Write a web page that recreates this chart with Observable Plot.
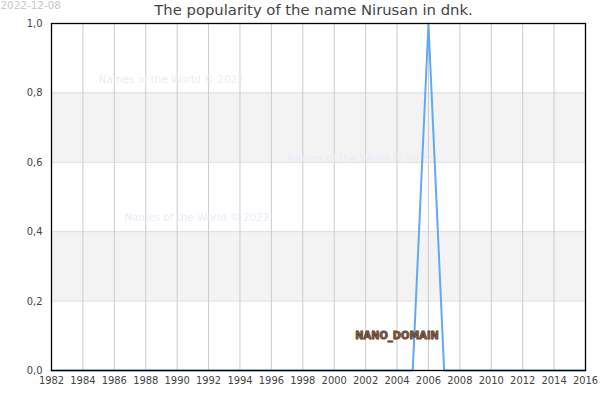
<!DOCTYPE html>
<html>
<head>
<meta charset="utf-8">
<script src="https://cdn.jsdelivr.net/npm/d3@7"></script>
<script src="https://cdn.jsdelivr.net/npm/@observablehq/plot@0.6"></script>
<style>
  html, body { margin: 0; padding: 0; background: #fff; }
  #chart svg { display: block; }
</style>
</head>
<body>
<div id="chart"></div>
<script>
const years = [1982,1983,1984,1985,1986,1987,1988,1989,1990,1991,1992,1993,1994,1995,1996,1997,1998,1999,2000,2001,2002,2003,2004,2005,2006,2007,2008,2009,2010,2011,2012,2013,2014,2015,2016];
const popularity = [0,0,0,0,0,0,0,0,0,0,0,0,0,0,0,0,0,0,0,0,0,0,0,0,1,0,0,0,0,0,0,0,0,0,0];
const xTicks = [1982,1984,1986,1988,1990,1992,1994,1996,1998,2000,2002,2004,2006,2008,2010,2012,2014,2016];
const yTicks = [0,0.2,0.4,0.6,0.8,1.0];
const bandLow = [0.2,0.6];
const bandHigh = [0.4,0.8];
const titleText = "The popularity of the name Nirusan in dnk.";
const dateText = "2022-12-08";
const watermarkText = "Names of the World © 2022";
const watermarkX = [1985.0, 1997.0, 1986.65];
const watermarkY = [0.838, 0.611, 0.441];
const domainLabel = "NANO_DOMAIN";
const domainX = [2004];
const domainY = [0.1];

const data = years.map((y, i) => ({year: y, value: popularity[i]}));
const bands = bandLow.map((lo, i) => ({lo, hi: bandHigh[i]}));
const watermarks = watermarkX.map((x, i) => ({x, y: watermarkY[i]}));
const fmt = v => d3.format(".1f")(v).replace(".", ",");
const condensed = "'DejaVu Sans Condensed', 'DejaVu Sans', sans-serif";
const regular = "'DejaVu Sans', sans-serif";

const chart = Plot.plot({
  width: 600,
  height: 400,
  marginLeft: 51,
  marginRight: 15,
  marginTop: 23,
  marginBottom: 30,
  style: {fontFamily: condensed, fontSize: "11px", color: "#444", background: "#fff"},
  x: {domain: [1982, 2016], ticks: xTicks, tickFormat: d => String(d), tickSize: 0, tickPadding: 6, label: null},
  y: {domain: [0, 1], ticks: yTicks, tickFormat: fmt, tickSize: 0, tickPadding: 9, label: null},
  marks: [
    Plot.rectY(bands, {x1: 1982, x2: 2016, y1: "lo", y2: "hi", fill: "#f3f3f3"}),
    Plot.ruleY(yTicks.slice(1, -1), {stroke: "#dddddd", strokeWidth: 1}),
    Plot.ruleX(xTicks.slice(1, -1), {stroke: "#cccccc", strokeWidth: 1}),
    Plot.text(watermarks, {x: "x", y: "y", text: () => watermarkText, textAnchor: "start", fill: "#ebebfa", fontSize: 10.3, fontFamily: regular}),
    Plot.line(data, {x: "year", y: "value", stroke: "#62a9f3", strokeWidth: 2}),
    Plot.text([0], {x: domainX, y: domainY, text: () => domainLabel, fill: "#7a5238", stroke: "#3b2418", strokeWidth: 0.8, fontSize: 11, fontWeight: "bold"}),
    Plot.frame({stroke: "#000", strokeWidth: 1.3}),
    Plot.axisX({ticks: xTicks, tickFormat: d => String(d), tickSize: 0, tickPadding: 6, fill: "#444", fontSize: 11}),
    Plot.axisY({ticks: yTicks, tickFormat: fmt, tickSize: 0, tickPadding: 9, fill: "#444", fontSize: 11}),
    Plot.text([titleText], {frameAnchor: "top", lineAnchor: "middle", dy: -13, dx: -5, fill: "#444", fontSize: 14.8, fontFamily: regular}),
    Plot.text([dateText], {frameAnchor: "top-left", lineAnchor: "middle", dx: -51, dy: -18, textAnchor: "start", fill: "#c8c8c8", fontSize: 10.4, fontFamily: regular})
  ]
});
document.getElementById("chart").appendChild(chart);
</script>
</body>
</html>
